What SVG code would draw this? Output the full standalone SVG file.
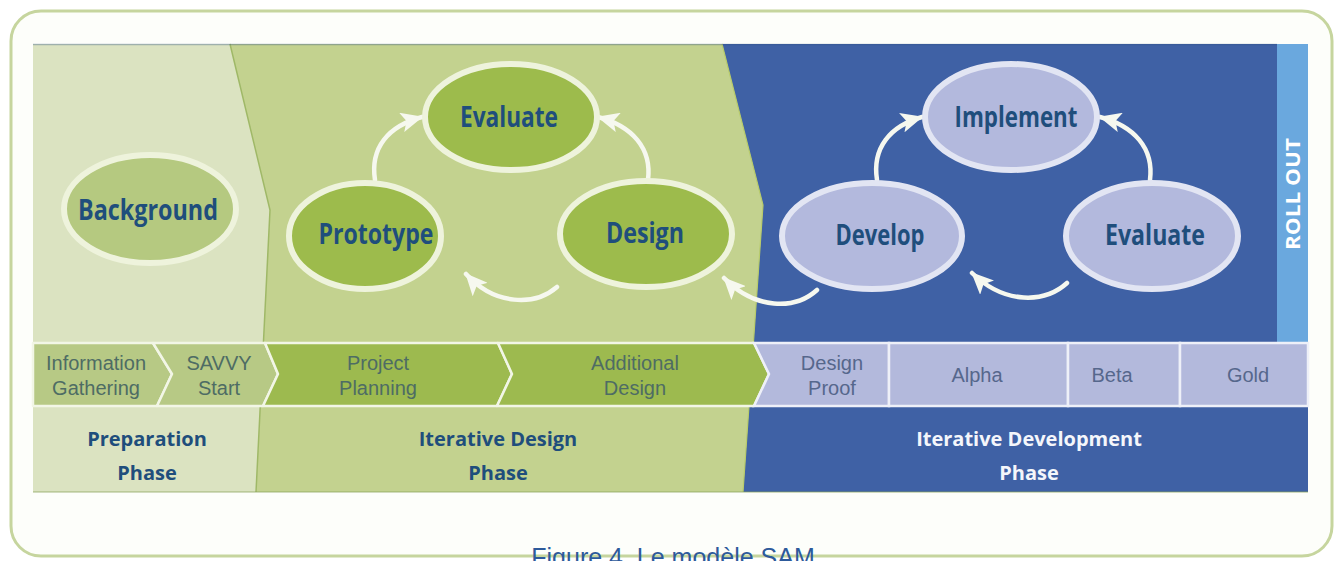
<svg xmlns="http://www.w3.org/2000/svg" width="1336" height="561" viewBox="0 0 1336 561">
  <defs>
    <style>
      .node-lbl { font-family: "Open Sans", "Noto Sans", sans-serif; font-weight: 700; font-size: 28px; fill: #1f4e7c; text-anchor: middle; }
      .phase-lbl { font-family: "Open Sans", "Noto Sans", sans-serif; font-weight: 700; font-size: 20px; fill: #1f4e7c; text-anchor: middle; }
      .phase-lbl.light { fill: #f4f6fb; }
      .stage-lbl { font-family: "Liberation Sans", Arial, sans-serif; font-size: 20px; fill: #4e6c64; text-anchor: middle; }
      .stage-lbl.dev { fill: #56678c; }
      .ell-g { fill: #9dbb4c; stroke: #eef3dc; stroke-width: 6; }
      .ell-bg { fill: #b5c980; stroke: #eef3dc; stroke-width: 6; }
      .ell-b { fill: #b3b9dd; stroke: #e2e5f3; stroke-width: 6; }
      .seg-lg { fill: #b7c985; stroke: #f2f6e6; stroke-width: 2.5; stroke-linejoin: round; }
      .seg-g { fill: #9dba4f; stroke: #f2f6e6; stroke-width: 2.5; stroke-linejoin: round; }
      .seg-b { fill: #b3b9dc; stroke: #eef0f8; stroke-width: 2.5; }
      .conn { fill: none; stroke: #f6f8ef; stroke-width: 4.5; stroke-linecap: round; marker-end: url(#ah); }
    </style>
    <marker id="ah" viewBox="0 0 22 20" markerWidth="22" markerHeight="20" refX="21" refY="10" orient="auto" markerUnits="userSpaceOnUse">
      <path d="M0,0 L22,10 L0,20 L5,10 z" fill="#f6f8ef"/>
    </marker>
  </defs>

  <!-- outer frame -->
  <rect x="11" y="11" width="1321" height="545" rx="30" ry="30" fill="#fdfefa" stroke="#c6d59e" stroke-width="3"/>

  <!-- panel backgrounds -->
  <g id="panel">
    <polygon points="33,44 230,44 270,210 256,492 33,492" fill="#dbe3c1"/>
    <polygon points="230,44 722,44 763,205 743,492 256,492 270,210" fill="#c3d28f"/>
    <polygon points="722,44 1277,44 1277,406 1308,406 1308,492 743,492 763,205" fill="#3f61a5"/>
    <polyline points="230,44 270,210 256,492" fill="none" stroke="#9fb867" stroke-width="1.5"/>
    <polyline points="722,44 763,205 743,492" fill="none" stroke="#b9cc6a" stroke-width="1.2"/>
    <line x1="33" y1="44.5" x2="1277" y2="44.5" stroke="#2f4f86" stroke-opacity="0.35" stroke-width="1.5"/>
    <line x1="33" y1="492" x2="1308" y2="492" stroke="#8aa35a" stroke-opacity="0.5" stroke-width="1.5"/>
  </g>

  <!-- roll out bar -->
  <g id="rollout">
    <rect x="1277" y="44" width="31" height="299" fill="#6aa8de"/>
    <text x="0" y="0" transform="translate(1300,194) rotate(-90)" font-family="Open Sans, Noto Sans, sans-serif" font-weight="700" font-size="19" fill="#ffffff" text-anchor="middle" textLength="112" lengthAdjust="spacingAndGlyphs">ROLL OUT</text>
  </g>

  <!-- stage bar -->
  <g id="stage-information-gathering">
    <polygon class="seg-lg" points="33,343 153,343 172,374 157,406 33,406"/>
    <text class="stage-lbl" x="96" y="370">Information</text>
    <text class="stage-lbl" x="96" y="395">Gathering</text>
  </g>
  <g id="stage-savvy-start">
    <polygon class="seg-lg" points="153,343 265,343 278,374 263,406 157,406 172,374"/>
    <text class="stage-lbl" x="219" y="370">SAVVY</text>
    <text class="stage-lbl" x="219" y="395">Start</text>
  </g>
  <g id="stage-project-planning">
    <polygon class="seg-g" points="265,343 498,343 512,374 497,406 263,406 278,374"/>
    <text class="stage-lbl" x="378" y="370">Project</text>
    <text class="stage-lbl" x="378" y="395">Planning</text>
  </g>
  <g id="stage-additional-design">
    <polygon class="seg-g" points="498,343 754,343 769,374 754,406 497,406 512,374"/>
    <text class="stage-lbl" x="635" y="370">Additional</text>
    <text class="stage-lbl" x="635" y="395">Design</text>
  </g>
  <g id="stage-design-proof">
    <polygon class="seg-b" points="754,343 889,343 889,406 754,406 769,374"/>
    <text class="stage-lbl dev" x="832" y="370">Design</text>
    <text class="stage-lbl dev" x="832" y="395">Proof</text>
  </g>
  <g id="stage-alpha">
    <rect class="seg-b" x="889" y="343" width="179" height="63"/>
    <text class="stage-lbl dev" x="977" y="382">Alpha</text>
  </g>
  <g id="stage-beta">
    <rect class="seg-b" x="1068" y="343" width="112" height="63"/>
    <text class="stage-lbl dev" x="1112" y="382">Beta</text>
  </g>
  <g id="stage-gold">
    <rect class="seg-b" x="1180" y="343" width="128" height="63"/>
    <text class="stage-lbl dev" x="1248" y="382">Gold</text>
  </g>

  <!-- phase labels -->
  <g id="phase-preparation">
    <text class="phase-lbl" x="147" y="446">Preparation</text>
    <text class="phase-lbl" x="147" y="480">Phase</text>
  </g>
  <g id="phase-iterative-design">
    <text class="phase-lbl" x="498" y="446">Iterative Design</text>
    <text class="phase-lbl" x="498" y="480">Phase</text>
  </g>
  <g id="phase-iterative-development">
    <text class="phase-lbl light" x="1029" y="446">Iterative Development</text>
    <text class="phase-lbl light" x="1029" y="480">Phase</text>
  </g>

  <!-- connectors -->
  <g id="connectors">
    <path class="conn" d="M375,180 C370,148 388,126 422,117"/>
    <path class="conn" d="M648,180 C652,148 632,126 598,117"/>
    <path class="conn" d="M557,287 C535,306 495,306 466,274"/>
    <path class="conn" d="M817,290 C795,310 755,310 724,278"/>
    <path class="conn" d="M877,180 C872,148 890,126 922,117"/>
    <path class="conn" d="M1150,180 C1154,148 1134,126 1100,117"/>
    <path class="conn" d="M1067,283 C1045,303 1005,305 972,273"/>
  </g>

  <!-- nodes -->
  <g id="node-background">
    <ellipse class="ell-bg" cx="150" cy="209" rx="86" ry="54"/>
    <text class="node-lbl" x="148" y="220" textLength="140" lengthAdjust="spacingAndGlyphs">Background</text>
  </g>
  <g id="node-prototype">
    <ellipse class="ell-g" cx="365" cy="236" rx="76" ry="53"/>
    <text class="node-lbl" x="376" y="244" textLength="115" lengthAdjust="spacingAndGlyphs">Prototype</text>
  </g>
  <g id="node-evaluate-design">
    <ellipse class="ell-g" cx="511" cy="117" rx="86" ry="53"/>
    <text class="node-lbl" x="509" y="127" textLength="98" lengthAdjust="spacingAndGlyphs">Evaluate</text>
  </g>
  <g id="node-design">
    <ellipse class="ell-g" cx="646" cy="234" rx="86" ry="53"/>
    <text class="node-lbl" x="645" y="243" textLength="78" lengthAdjust="spacingAndGlyphs">Design</text>
  </g>
  <g id="node-develop">
    <ellipse class="ell-b" cx="872" cy="236" rx="90" ry="53"/>
    <text class="node-lbl" x="880" y="245" textLength="89" lengthAdjust="spacingAndGlyphs">Develop</text>
  </g>
  <g id="node-implement">
    <ellipse class="ell-b" cx="1011" cy="117" rx="86" ry="53"/>
    <text class="node-lbl" x="1016" y="127" textLength="123" lengthAdjust="spacingAndGlyphs">Implement</text>
  </g>
  <g id="node-evaluate-development">
    <ellipse class="ell-b" cx="1152" cy="236" rx="86" ry="53"/>
    <text class="node-lbl" x="1155" y="245" textLength="100" lengthAdjust="spacingAndGlyphs">Evaluate</text>
  </g>

  <!-- caption -->
  <text x="673" y="566" font-family="Liberation Sans, Arial, sans-serif" font-size="25" fill="#2d5a9b" text-anchor="middle">Figure 4. Le modèle SAM</text>
</svg>
